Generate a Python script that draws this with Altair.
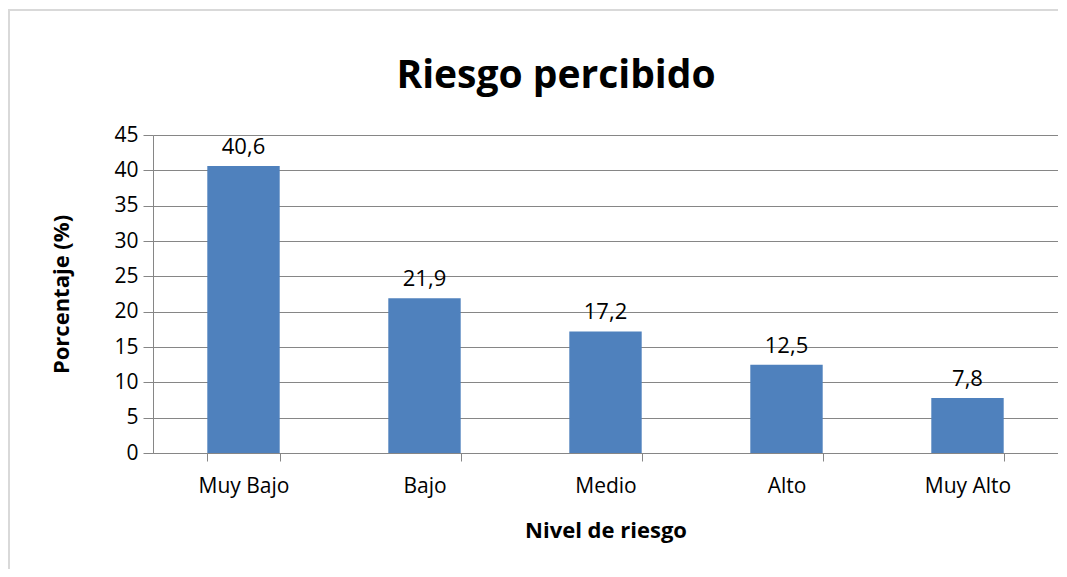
import altair as alt
import pandas as pd

categories = ["Muy Bajo", "Bajo", "Medio", "Alto", "Muy Alto"]
values = [40.6, 21.9, 17.2, 12.5, 7.8]
title_text = ["Riesgo percibido"]

df = pd.DataFrame({"nivel": categories, "pct": values})

FONT = "Open Sans"
GRAY = "#868686"

x = alt.X("nivel:N", sort=categories, title="Nivel de riesgo",
          scale=alt.Scale(paddingInner=0.6, paddingOuter=0.3),
          axis=alt.Axis(labelAngle=0, labelFontSize=21, labelColor="#000000",
                        labelFont=FONT, labelPadding=14,
                        titleFont=FONT, titleFontSize=22, titleFontWeight="bold",
                        titleColor="#000000", titlePadding=24,
                        domainColor=GRAY, tickColor=GRAY, tickSize=8,
                        tickBand="extent", grid=False))
y = alt.Y("pct:Q", title="Porcentaje (%)",
          scale=alt.Scale(domain=[0, 45], nice=False),
          axis=alt.Axis(values=list(range(0, 46, 5)), labelFontSize=21,
                        labelColor="#000000", labelFont=FONT, labelPadding=5,
                        labelOverlap=False,
                        titleFont=FONT, titleFontSize=22, titleFontWeight="bold",
                        titleColor="#000000", titlePadding=40,
                        domainColor=GRAY, tickColor=GRAY, tickSize=10,
                        gridColor=GRAY, gridWidth=1))

base = alt.Chart(df).encode(x=x, y=y)

bars = base.mark_bar(color="#4F81BD")

labels = base.transform_calculate(
    lbl="replace(format(datum.pct, '.1f'), '.', ',')"
).mark_text(baseline="alphabetic", dy=-12, fontSize=22, font=FONT, color="#000000").encode(
    text="lbl:N")

title_df = pd.DataFrame({"t": title_text})
title = alt.Chart(title_df).mark_text(
    fontSize=39, font=FONT, fontWeight="bold", color="#000000",
    align="center", baseline="alphabetic").encode(
    text="t:N", x=alt.value(403), y=alt.value(-47))

frame = alt.Chart(title_df).mark_rect(fill=None, stroke="#d9d9d9", strokeWidth=2).encode(
    x=alt.value(-144), x2=alt.value(1000), y=alt.value(-125), y2=alt.value(600))

chart = alt.layer(frame, bars, labels, title).properties(
    width=905, height=318,
    autosize=alt.AutoSizeParams(type="none"),
    padding={"left": 145, "top": 127, "right": 0, "bottom": 116},
).configure_view(stroke=None).configure(background="white")

chart.save("out.html", embed_options={"renderer": "svg", "actions": False})
